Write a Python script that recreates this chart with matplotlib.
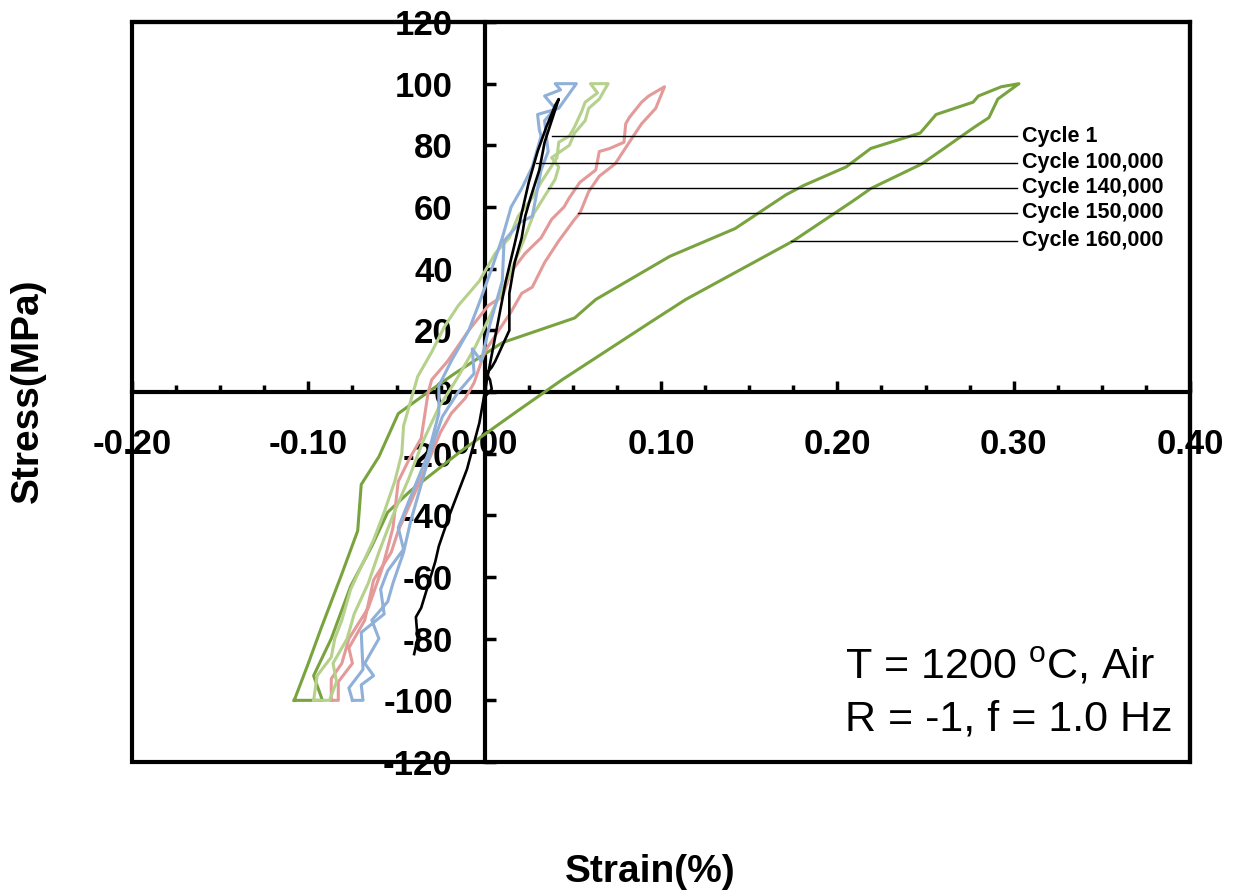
import numpy as np
import matplotlib.pyplot as plt
from matplotlib.patches import Rectangle
from matplotlib.ticker import MultipleLocator, FormatStrFormatter

plt.rcParams['font.family'] = ['Liberation Sans', 'DejaVu Sans']
plt.rcParams['mathtext.fontset'] = 'custom'
plt.rcParams['mathtext.rm'] = 'Liberation Sans'
plt.rcParams['axes.unicode_minus'] = False

# Hysteresis loops: strain (%) and stress (MPa), loading branch then unloading branch
cycle1_strain = [0.001, 0.004, 0.003, 0.001, 0.004, 0.006, 0.014, 0.014, 0.017, 0.021, 0.023,
                 0.026, 0.031, 0.034, 0.038, 0.042,
                 0.040, 0.035, 0.030, 0.025, 0.021, 0.017, 0.012, 0.008, 0.004, 0.001,
                 -0.003, -0.010, -0.020, -0.026, -0.028, -0.036, -0.039, -0.038, -0.040]
cycle1_stress = [-1, 1, 4, 6, 8, 10, 20, 32, 42, 50, 57,
                 63, 72, 81, 88, 95,
                 93, 86, 78, 68, 58, 48, 36, 24, 12, 3,
                 -10, -25, -40, -50, -55, -70, -73, -80, -85]

c100k_strain = [-0.075, -0.069, -0.070, -0.063, -0.068, -0.060, -0.064, -0.055, -0.052, -0.046,
                -0.042, -0.036, -0.030, -0.024, -0.015, -0.006, -0.007, -0.002, 0.003, 0.010,
                0.011, 0.020, 0.027, 0.032, 0.036, 0.034, 0.040, 0.034, 0.043, 0.040, 0.052,
                0.042, 0.030, 0.031, 0.032, 0.027, 0.021, 0.015, 0.010, 0.004, -0.003, -0.009,
                -0.019, -0.026, -0.026, -0.032, -0.042, -0.049, -0.046, -0.055, -0.059, -0.057,
                -0.070, -0.069, -0.077, -0.075]
c100k_stress = [-100, -100, -95, -92, -88, -80, -74, -68, -62, -52,
                -42, -30, -18, -8, 0, 6, 14, 10, 22, 36,
                49, 55, 57, 72, 78, 88, 92, 96, 98, 100, 100,
                92, 90, 85, 83, 73, 66, 60, 50, 40, 29, 20,
                10, 2, -7, -20, -34, -44, -51, -58, -64, -72,
                -78, -90, -96, -100]

c140k_strain = [-0.097, -0.088, -0.084, -0.086, -0.078, -0.074, -0.066, -0.060, -0.052, -0.043,
                -0.035, -0.026, -0.015, -0.005, 0.005, 0.014, 0.022, 0.028, 0.040, 0.042,
                0.038, 0.048, 0.051, 0.057, 0.059, 0.065, 0.070,
                0.060, 0.064, 0.057, 0.055, 0.051, 0.048, 0.042, 0.041, 0.032, 0.027, 0.019,
                0.014, 0.006, -0.003, -0.015, -0.023, -0.030, -0.038, -0.046, -0.047, -0.051,
                -0.057, -0.063, -0.072, -0.076, -0.081, -0.085, -0.087, -0.095, -0.097]
c140k_stress = [-100, -100, -94, -88, -80, -72, -62, -52, -40, -28,
                -16, -5, 5, 15, 27, 38, 49, 58, 69, 73,
                76, 80, 84, 88, 92, 95, 100,
                100, 97, 94, 91, 86, 83, 81, 76, 68, 63, 57,
                50, 45, 36, 28, 21, 13, 5, -11, -20, -29,
                -39, -48, -59, -64, -74, -80, -86, -92, -100]

c150k_strain = [-0.087, -0.083, -0.083, -0.075, -0.077, -0.068, -0.063, -0.053, -0.049, -0.036,
                -0.025, -0.019, -0.011, -0.006, 0.000, 0.008, 0.015, 0.021, 0.027, 0.034,
                0.042, 0.051, 0.054, 0.059, 0.065, 0.074, 0.082, 0.089, 0.097, 0.102,
                0.093, 0.089, 0.082, 0.080, 0.079, 0.071, 0.065, 0.063, 0.054, 0.048, 0.045,
                0.038, 0.032, 0.023, 0.015, 0.010, 0.002, -0.009, -0.021, -0.030, -0.032,
                -0.036, -0.043, -0.049, -0.052, -0.058, -0.066, -0.077, -0.081, -0.087, -0.087]
c150k_stress = [-100, -100, -94, -88, -83, -74, -61, -52, -45, -28,
                -13, -7, -2, 3, 13, 20, 26, 32, 34, 42,
                49, 56, 58, 65, 70, 74, 81, 87, 92, 99,
                96, 94, 89, 87, 81, 79, 78, 72, 68, 63, 60,
                56, 50, 45, 39, 31, 28, 20, 10, 4, 0,
                -15, -22, -29, -44, -57, -70, -80, -88, -93, -100]

c160k_strain = [-0.108, -0.092, -0.097, -0.087, -0.076, -0.064, -0.055, -0.042, -0.013, 0.019,
                0.044, 0.095, 0.114, 0.175, 0.209, 0.219, 0.248, 0.278, 0.286, 0.291, 0.303,
                0.293, 0.280, 0.277, 0.256, 0.247, 0.219, 0.205, 0.181, 0.171, 0.142, 0.105,
                0.063, 0.051, 0.010, -0.017, -0.032, -0.049, -0.060, -0.070, -0.072, -0.081,
                -0.093, -0.100, -0.108]
c160k_stress = [-100, -100, -92, -80, -63, -50, -39, -32, -19, -6,
                4, 23, 30, 49, 62, 66, 74, 86, 89, 95, 100,
                99, 96, 94, 90, 84, 79, 73, 67, 64, 53, 44,
                30, 24, 16, 6, 0, -7, -21, -30, -45, -59,
                -77, -88, -100]

cycle_labels = ['Cycle 1', 'Cycle 100,000', 'Cycle 140,000', 'Cycle 150,000', 'Cycle 160,000']
label_stress = [83.0, 74.3, 66.2, 58.1, 49.0]
leader_start = [0.038, 0.029, 0.036, 0.053, 0.174]

fig = plt.figure(figsize=(12.37, 8.92), dpi=100)
ax = fig.add_axes([132 / 1237, 1 - 762 / 892, 1058 / 1237, 740 / 892])

ax.plot(c160k_strain, c160k_stress, color='#78a33e', lw=2.2, zorder=3)
ax.plot(c150k_strain, c150k_stress, color='#e39a98', lw=2.2, zorder=3)
ax.plot(c140k_strain, c140k_stress, color='#b5d18c', lw=2.2, zorder=3)
ax.plot(c100k_strain, c100k_stress, color='#8fb0d8', lw=2.2, zorder=3)
ax.plot(cycle1_strain, cycle1_stress, color='black', lw=1.9, zorder=3)

# leader lines to the cycle labels
for name, s, x0 in zip(cycle_labels, label_stress, leader_start):
    ax.plot([x0, 0.302], [s, s], color='black', lw=1.0, zorder=3)
    ax.text(0.305, s, name, fontsize=15.5, fontweight='bold', ha='left', va='center')

ax.set_xlim(-0.2, 0.4)
ax.set_ylim(-120, 120)

# axes cross at the origin, outer frame drawn as a box
ax.spines['left'].set_position(('data', 0))
ax.spines['bottom'].set_position(('data', 0))
for sp in ax.spines.values():
    sp.set_linewidth(3)
ax.add_patch(Rectangle((0, 0), 1, 1, transform=ax.transAxes, fill=False,
                       lw=3, edgecolor='black', clip_on=False, zorder=4))

ax.xaxis.set_major_locator(MultipleLocator(0.1))
ax.xaxis.set_minor_locator(MultipleLocator(0.025))
ax.xaxis.set_major_formatter(FormatStrFormatter('%.2f'))
ax.yaxis.set_major_locator(MultipleLocator(20))
ax.tick_params(axis='x', which='major', direction='in', length=8, width=2.5,
               labelsize=25, pad=26)
ax.tick_params(axis='x', which='minor', direction='in', length=5, width=2.5)
ax.tick_params(axis='y', which='major', direction='in', length=8, width=2.5,
               labelsize=25, pad=23)
ax.tick_params(top=False, right=False)
for lab in ax.get_xticklabels() + ax.get_yticklabels():
    lab.set_fontweight('bold')

fig.text(28 / 1237, 1 - 391 / 892, 'Stress(MPa)', rotation=90, fontsize=28,
         fontweight='bold', ha='center', va='center')
fig.text(650 / 1237, 1 - 872 / 892, 'Strain(%)', fontsize=28,
         fontweight='bold', ha='center', va='center')

fig.text(845 / 1237, 1 - 678 / 892, 'T = 1200 $^{\\mathrm{o}}$C, Air', fontsize=31,
         ha='left', va='baseline')
fig.text(845 / 1237, 1 - 730 / 892, 'R = -1, f = 1.0 Hz', fontsize=31,
         ha='left', va='baseline')

fig.savefig('out.png', dpi=100)
